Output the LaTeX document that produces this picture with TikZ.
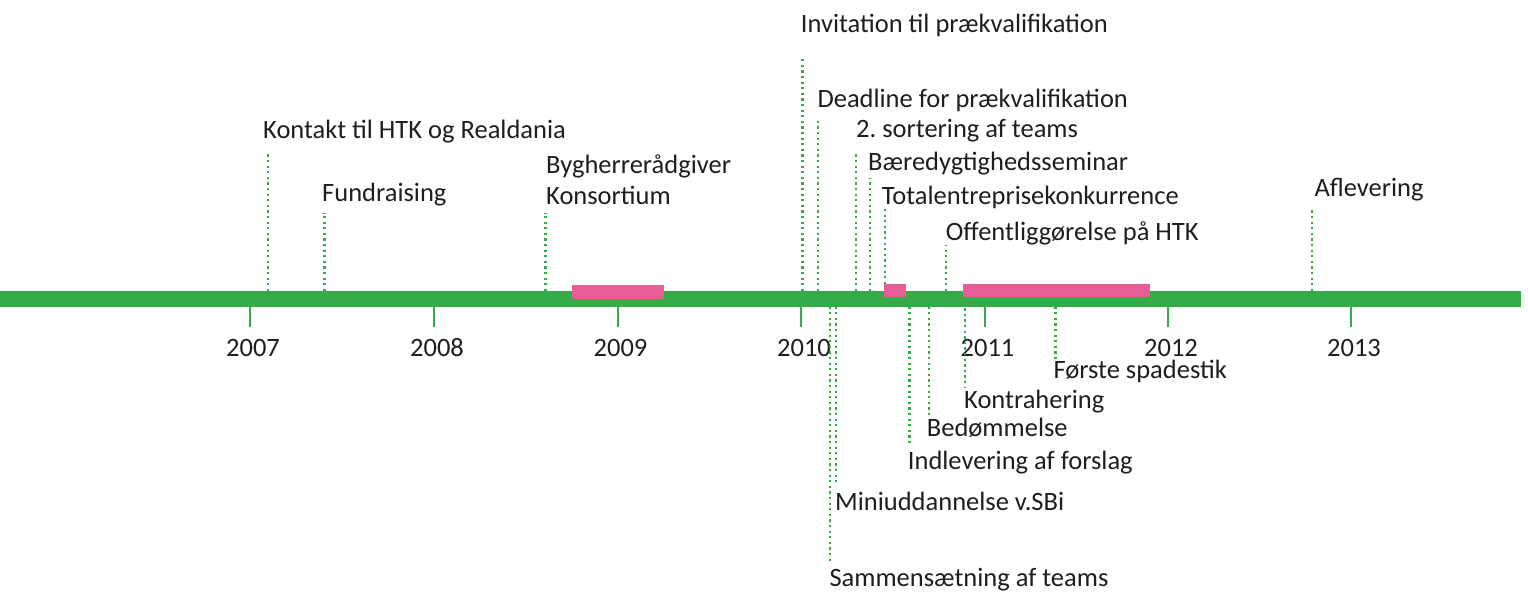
\documentclass[tikz,border=0pt]{standalone}
\usepackage{fontspec}
\setmainfont{Carlito}
\frenchspacing
\definecolor{tlgreen}{RGB}{53,170,73}
\definecolor{tlpink}{RGB}{229,94,150}
\definecolor{tltext}{RGB}{30,30,30}
\begin{document}
\begin{tikzpicture}[x=1pt,y=-1pt,
  lbl/.style={anchor=base west, inner sep=0pt,
    font=\fontsize{26.5}{31}\selectfont, text=tltext},
  yr/.style={anchor=base, inner sep=0pt, font=\fontsize{26.5}{31}\selectfont, text=tltext},
  dotline/.style={tlgreen, line width=2.4pt, dash pattern=on 2.3pt off 3.3pt},
  tickline/.style={tlgreen, line width=2pt},
  spanbox/.style={fill=tlpink, draw=none}]
\useasboundingbox (0,0) rectangle (1528,592);
% axis
\fill[tlgreen] (0,291) rectangle (1521,306.5);
% spans
\fill[spanbox] (571.5,285) rectangle (663.6,298.5);
\fill[spanbox] (883.7,284) rectangle (906.3,297);
\fill[spanbox] (963.3,284) rectangle (1150,297);
% year ticks and labels
\foreach \yr/\xx in {2007/250,2008/434,2009/617.5,2010/801,2011/984.5,2012/1168,2013/1351}{
  \coordinate (t\yr) at (\xx,306.5);
  \coordinate (b\yr) at (\xx,327);
  \draw[tickline] (t\yr) -- (b\yr);
  \node[yr] (y\yr) at (\xx+3,356) {\yr};
}
% events above the axis
\node[lbl] (kontakt) at (263,138) {Kontakt til HTK og Realdania};
\coordinate (kontaktA) at (268,291); \coordinate (kontaktB) at (268,153.5);
\node[lbl] (fund) at (322,201) {Fundraising};
\coordinate (fundA) at (324.3,291); \coordinate (fundB) at (324.3,212.5);
\node[lbl] (byg) at (546,173.3) {Bygherrerådgiver};
\node[lbl] (kons) at (546,204.3) {Konsortium};
\coordinate (bygA) at (545.3,291); \coordinate (bygB) at (545.3,212.5);
\node[lbl] (invit) at (800.7,32.7) {Invitation til prækvalifikation};
\coordinate (invitA) at (802.3,291); \coordinate (invitB) at (802.3,58);
\node[lbl] (dead) at (817.3,107.3) {Deadline for prækvalifikation};
\coordinate (deadA) at (818,291); \coordinate (deadB) at (818,119);
\node[lbl] (sort) at (856,137.3) {2. sortering af teams};
\coordinate (sortA) at (855.7,291); \coordinate (sortB) at (855.7,154);
\node[lbl] (baer) at (868,170.7) {Bæredygtighedsseminar};
\coordinate (baerA) at (870,291); \coordinate (baerB) at (870,178);
\node[lbl] (total) at (881.7,204) {Totalentreprisekonkurrence};
\coordinate (totalA) at (885,284); \coordinate (totalB) at (885,207);
\node[lbl] (offent) at (945.7,240.7) {Offentliggørelse på HTK};
\coordinate (offentA) at (946,291); \coordinate (offentB) at (946,245);
\node[lbl] (afl) at (1314.3,196.7) {Aflevering};
\coordinate (aflA) at (1312,291); \coordinate (aflB) at (1312,208.3);
\foreach \n in {kontakt,fund,byg,invit,dead,sort,baer,total,offent,afl}
  \draw[dotline] (\n A) -- (\n B);
% events below the axis
\node[lbl] (samm) at (829.3,586.7) {Sammensætning af teams};
\coordinate (sammA) at (830,306.5); \coordinate (sammB) at (830,563);
\node[lbl] (mini) at (835,510) {Miniuddannelse v.SBi};
\coordinate (miniA) at (835.7,306.5); \coordinate (miniB) at (835.7,485.7);
\node[lbl] (indl) at (907.7,469) {Indlevering af forslag};
\coordinate (indlA) at (909.3,306.5); \coordinate (indlB) at (909.3,445);
\node[lbl] (bedo) at (926.7,436.7) {Bedømmelse};
\coordinate (bedoA) at (929,306.5); \coordinate (bedoB) at (929,416.7);
\node[lbl] (kontr) at (964,408.3) {Kontrahering};
\coordinate (kontrA) at (965,297); \coordinate (kontrB) at (965,387.3);
\node[lbl] (forst) at (1053.3,378.3) {Første spadestik};
\coordinate (forstA) at (1055.3,306.5); \coordinate (forstB) at (1055.3,359);
\foreach \n in {samm,mini,indl,bedo,kontr,forst}
  \draw[dotline] (\n A) -- (\n B);
\end{tikzpicture}
\end{document}
